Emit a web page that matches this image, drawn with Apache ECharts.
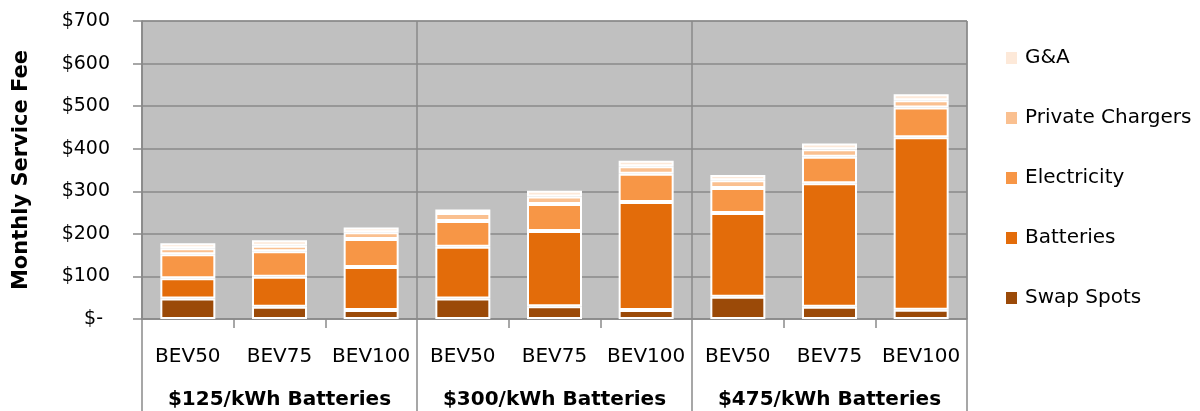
<!DOCTYPE html>
<html>
<head>
<meta charset="utf-8">
<title>Monthly Service Fee</title>
<script src="https://cdn.jsdelivr.net/npm/echarts@6/dist/echarts.min.js"></script>
<style>
  html, body { margin: 0; padding: 0; background: #ffffff; }
  #chart { width: 1200px; height: 411px; }
</style>
</head>
<body>
<div id="chart"></div>
<script>
// Vehicle types within each battery-cost scenario
const categories = ['BEV50', 'BEV75', 'BEV100', 'BEV50', 'BEV75', 'BEV100', 'BEV50', 'BEV75', 'BEV100'];
// Battery-cost scenarios (one per group of three bars)
const groups = ['$125/kWh Batteries', '$300/kWh Batteries', '$475/kWh Batteries'];
// Value axis tick labels ($ per month)
const yTicks = [0, 100, 200, 300, 400, 500, 600, 700];

// Cost components, stacked bottom to top
const swapSpots       = [48, 29, 21, 48, 30, 21, 52, 29, 22];
const batteries       = [48, 70, 101, 122, 177, 254, 197, 290, 405];
const electricity     = [56, 60, 66, 60, 63, 66, 59, 62, 70];
const privateChargers = [14, 13, 16, 19, 18, 18, 18, 18, 17];
const gAndA           = [12, 13, 11, 8, 13, 13, 12, 13, 14];

const seriesDefs = [
  { name: 'Swap Spots',       data: swapSpots,       color: '#9B4A08' },
  { name: 'Batteries',        data: batteries,       color: '#E36C0A' },
  { name: 'Electricity',      data: electricity,     color: '#F79646' },
  { name: 'Private Chargers', data: privateChargers, color: '#FAC090' },
  { name: 'G&A',              data: gAndA,           color: '#FDE9D9' }
];

const FONT = 'DejaVu Sans';
const GRID_COLOR = '#8A8A8A';

const chart = echarts.init(document.getElementById('chart'), null, { renderer: 'canvas' });

chart.setOption({
  animation: false,
  textStyle: { fontFamily: FONT },
  grid: {
    left: 142, right: 233, top: 21, bottom: 92,
    containLabel: false,
    outerBoundsMode: 'none',
    show: true,
    backgroundColor: '#C0C0C0',
    borderColor: GRID_COLOR,
    borderWidth: 1
  },
  legend: {
    orient: 'vertical',
    left: 1006,
    top: 47,
    padding: 0,
    itemWidth: 11,
    itemHeight: 12,
    itemGap: 38,
    icon: 'rect',
    data: ['G&A', 'Private Chargers', 'Electricity', 'Batteries', 'Swap Spots'],
    itemStyle: { borderWidth: 0 },
    textStyle: { fontFamily: FONT, fontSize: 20, color: '#000', lineHeight: 22, padding: [0, 0, 0, 3] }
  },
  xAxis: [
    {
      type: 'category',
      data: categories,
      position: 'bottom',
      axisLine: { show: true, lineStyle: { color: GRID_COLOR, width: 1.5 } },
      axisTick: { show: true, length: 9, lineStyle: { color: GRID_COLOR, width: 1.5 } },
      axisLabel: { fontFamily: FONT, fontSize: 20, color: '#000', margin: 28, interval: 0 },
      splitLine: { show: false }
    },
    {
      type: 'category',
      data: groups,
      position: 'bottom',
      offset: 0,
      axisLine: { show: false },
      axisTick: { show: true, length: 92, lineStyle: { color: GRID_COLOR, width: 1.5 } },
      axisLabel: { fontFamily: FONT, fontSize: 20, fontWeight: 'bold', color: '#000', margin: 71, interval: 0 },
      splitLine: { show: true, lineStyle: { color: GRID_COLOR, width: 1.5 } }
    }
  ],
  yAxis: {
    type: 'value',
    min: yTicks[0],
    max: yTicks[yTicks.length - 1],
    interval: 100,
    name: 'Monthly Service Fee',
    nameLocation: 'middle',
    nameGap: 110,
    nameTextStyle: { fontFamily: FONT, fontSize: 21, fontWeight: 'bold', color: '#000' },
    axisLine: { show: true, lineStyle: { color: GRID_COLOR, width: 1.5 } },
    axisTick: { show: true, length: 9, lineStyle: { color: GRID_COLOR, width: 1.5 } },
    axisLabel: {
      fontFamily: FONT, fontSize: 19, color: '#000', margin: 32,
      formatter: v => (v === 0 ? '{dash|$-}' : '$' + v),
      rich: { dash: { fontFamily: FONT, fontSize: 19, color: '#000', padding: [0, 7, 0, 0] } }
    },
    splitLine: { show: true, lineStyle: { color: GRID_COLOR, width: 1.5 } }
  },
  series: seriesDefs.map(s => ({
    name: s.name,
    type: 'bar',
    stack: 'fee',
    xAxisIndex: 0,
    barWidth: '60%',
    data: s.data,
    itemStyle: { color: s.color, borderColor: '#FFFFFF', borderWidth: 2 }
  }))
});
</script>
</body>
</html>
